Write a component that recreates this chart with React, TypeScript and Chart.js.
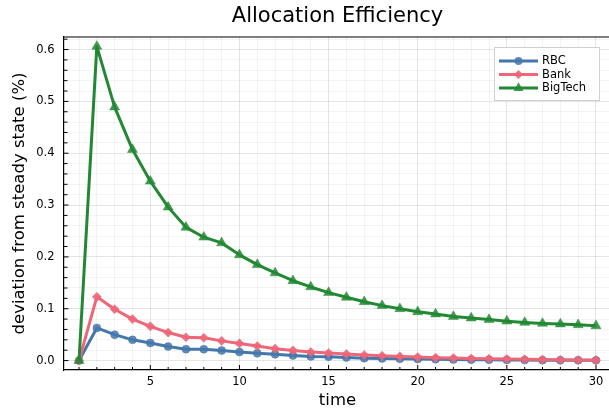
import React, { useEffect, useRef } from "react";
import { Chart, registerables } from "chart.js";

Chart.register(...registerables);

const timeSteps = [1, 2, 3, 4, 5, 6, 7, 8, 9, 10, 11, 12, 13, 14, 15, 16, 17, 18, 19, 20, 21, 22, 23, 24, 25, 26, 27, 28, 29, 30];
const rbc = [0, 0.063, 0.050, 0.040, 0.034, 0.027, 0.022, 0.022, 0.0195, 0.0165, 0.014, 0.012, 0.0098, 0.008, 0.0073, 0.006, 0.0047, 0.004, 0.0035, 0.003, 0.0025, 0.002, 0.0018, 0.0015, 0.0012, 0.001, 0.0008, 0.0006, 0.0005, 0.0004];
const bank = [0, 0.123, 0.099, 0.080, 0.066, 0.054, 0.045, 0.044, 0.038, 0.033, 0.028, 0.023, 0.0195, 0.0164, 0.0145, 0.0125, 0.0106, 0.0093, 0.008, 0.0067, 0.0055, 0.0048, 0.004, 0.0035, 0.003, 0.0025, 0.002, 0.0015, 0.001, 0.0008];
const bigTech = [0, 0.606, 0.489, 0.407, 0.346, 0.296, 0.257, 0.238, 0.227, 0.204, 0.185, 0.169, 0.154, 0.142, 0.131, 0.122, 0.1135, 0.106, 0.100, 0.094, 0.0897, 0.085, 0.082, 0.079, 0.076, 0.0735, 0.0716, 0.0704, 0.069, 0.067];

const seriesNames = ["RBC", "Bank", "BigTech"];
const seriesColors = ["#4477AA", "#EE6677", "#228833"];
const seriesFills = ["rgba(68,119,170,0.85)", "rgba(238,102,119,0.9)", "rgba(34,136,51,0.85)"];
const seriesStyles = ["circle", "rectRot", "triangle"];
const seriesRadii = [4, 4.6, 5.8];

const xTicks = timeSteps;
const yTicks = [0, 0.02, 0.04, 0.06, 0.08, 0.1, 0.12, 0.14, 0.16, 0.18, 0.2, 0.22, 0.24, 0.26, 0.28, 0.3, 0.32, 0.34, 0.36, 0.38, 0.4, 0.42, 0.44, 0.46, 0.48, 0.5, 0.52, 0.54, 0.56, 0.58, 0.6, 0.62];

const TITLE = "Allocation Efficiency";
const X_TITLE = "time";
const Y_TITLE = "deviation from steady state (%)";
const FONT = "'DejaVu Sans', sans-serif";

const CANVAS_W = 620;
const CANVAS_H = 412;

function isMajorY(v: number) {
  return Math.abs(v * 10 - Math.round(v * 10)) < 1e-6;
}
function isMajorX(v: number) {
  return v % 5 === 0;
}

function drawMarker(ctx: CanvasRenderingContext2D, style: string, x: number, y: number, r: number) {
  ctx.beginPath();
  if (style === "circle") {
    ctx.arc(x, y, r, 0, Math.PI * 2);
  } else if (style === "rectRot") {
    ctx.moveTo(x, y - r);
    ctx.lineTo(x + r, y);
    ctx.lineTo(x, y + r);
    ctx.lineTo(x - r, y);
    ctx.closePath();
  } else {
    ctx.moveTo(x, y - r);
    ctx.lineTo(x + r * 0.866, y + r * 0.5);
    ctx.lineTo(x - r * 0.866, y + r * 0.5);
    ctx.closePath();
  }
  ctx.fill();
}

const decorPlugin = {
  id: "decor",
  afterDraw(chart: any) {
    const ctx: CanvasRenderingContext2D = chart.ctx;
    const { left, right, top, bottom } = chart.chartArea;
    const xs = chart.scales.x;
    const ys = chart.scales.y;
    ctx.save();
    // top / right frame
    ctx.strokeStyle = "#000";
    ctx.lineWidth = 1.2;
    ctx.beginPath();
    ctx.moveTo(left, top);
    ctx.lineTo(right, top);
    ctx.lineTo(right, bottom);
    ctx.stroke();
    // inward ticks
    ctx.lineWidth = 1;
    ctx.beginPath();
    for (const v of xTicks) {
      const px = xs.getPixelForValue(v);
      const len = isMajorX(v) ? 5 : 3;
      ctx.moveTo(px, bottom);
      ctx.lineTo(px, bottom - len);
    }
    for (const v of yTicks) {
      const py = ys.getPixelForValue(v);
      if (py < top) continue;
      const len = isMajorY(v) ? 5 : 4;
      ctx.moveTo(left, py);
      ctx.lineTo(left + len, py);
    }
    ctx.stroke();

    // title
    ctx.fillStyle = "#000";
    ctx.textAlign = "center";
    ctx.textBaseline = "middle";
    ctx.font = `21px ${FONT}`;
    ctx.fillText(TITLE, (left + right) / 2, 17);
    // axis titles
    ctx.font = `16.5px ${FONT}`;
    ctx.fillText(X_TITLE, (left + right) / 2, 401);
    ctx.save();
    ctx.translate(20, (top + bottom) / 2);
    ctx.rotate(-Math.PI / 2);
    ctx.fillText(Y_TITLE, 0, 0);
    ctx.restore();

    // legend
    const bx = 494, by = 47, bw = 105, bh = 53;
    ctx.fillStyle = "#fff";
    ctx.fillRect(bx, by, bw, bh);
    ctx.strokeStyle = "#d0d0d0";
    ctx.lineWidth = 1;
    ctx.strokeRect(bx + 0.5, by + 0.5, bw, bh);
    const rowY = [61, 74.5, 88];
    ctx.font = `11.5px ${FONT}`;
    ctx.textAlign = "left";
    for (let i = 0; i < 3; i++) {
      const y = rowY[i];
      ctx.strokeStyle = seriesColors[i];
      ctx.lineWidth = 3;
      ctx.beginPath();
      ctx.moveTo(499, y);
      ctx.lineTo(538, y);
      ctx.stroke();
      ctx.fillStyle = seriesFills[i];
      drawMarker(ctx, seriesStyles[i], 518.5, y, seriesRadii[i]);
      ctx.fillStyle = "#000";
      ctx.fillText(seriesNames[i], 542, y + 0.5);
    }
    ctx.restore();
  },
};

export default function App() {
  const ref = useRef<HTMLCanvasElement | null>(null);
  useEffect(() => {
    if (!ref.current) return;
    const allSeries = [rbc, bank, bigTech];
    const chart = new Chart(ref.current, {
      type: "line",
      data: {
        datasets: allSeries.map((vals, i) => ({
          label: seriesNames[i],
          data: timeSteps.map((t, j) => ({ x: t, y: vals[j] })),
          borderColor: seriesColors[i],
          backgroundColor: seriesFills[i],
          borderWidth: 3,
          borderJoinStyle: "round",
          pointStyle: seriesStyles[i],
          pointRadius: seriesRadii[i],
          pointBackgroundColor: seriesFills[i],
          pointBorderColor: seriesFills[i],
          pointBorderWidth: 0.5,
          order: 3 - i,
          tension: 0,
        })) as any,
      },
      options: {
        responsive: false,
        animation: false,
        layout: { padding: { left: 0, top: 37, right: CANVAS_W - 611.5, bottom: 0 } },
        plugins: { legend: { display: false }, title: { display: false }, tooltip: { enabled: false } },
        scales: {
          x: {
            type: "linear",
            min: 0.13,
            max: 30.87,
            afterBuildTicks: (s: any) => {
              s.ticks = xTicks.map((v) => ({ value: v }));
            },
            afterFit: (s: any) => {
              s.height = 42;
            },
            ticks: {
              autoSkip: false,
              maxRotation: 0,
              padding: 5,
              color: "#000",
              font: { family: FONT, size: 11.5 },
              callback: (v: any) => (isMajorX(Number(v)) ? String(v) : ""),
            },
            grid: {
              drawTicks: false,
              color: (c: any) => (c.tick && isMajorX(c.tick.value) ? "rgba(0,0,0,0.1)" : "rgba(0,0,0,0.045)"),
              lineWidth: 1,
            },
            border: { display: true, color: "#000", width: 1.2 },
          },
          y: {
            type: "linear",
            min: -0.0182,
            max: 0.6242,
            afterBuildTicks: (s: any) => {
              s.ticks = yTicks.map((v) => ({ value: v }));
            },
            afterFit: (s: any) => {
              s.width = 63.5;
            },
            ticks: {
              autoSkip: false,
              padding: 9,
              color: "#000",
              font: { family: FONT, size: 11.5 },
              callback: (v: any) => (isMajorY(Number(v)) ? Number(v).toFixed(1) : ""),
            },
            grid: {
              drawTicks: false,
              color: (c: any) => (c.tick && isMajorY(c.tick.value) ? "rgba(0,0,0,0.1)" : "rgba(0,0,0,0.045)"),
              lineWidth: 1,
            },
            border: { display: true, color: "#000", width: 1.2 },
          },
        },
      },
      plugins: [decorPlugin],
    } as any);
    return () => chart.destroy();
  }, []);
  return (
    <div style={{ position: "fixed", left: 0, top: 0, width: 609, height: 412, overflow: "hidden", background: "#fff" }}>
      <canvas ref={ref} width={CANVAS_W} height={CANVAS_H} style={{ display: "block", width: CANVAS_W, height: CANVAS_H }} />
    </div>
  );
}
